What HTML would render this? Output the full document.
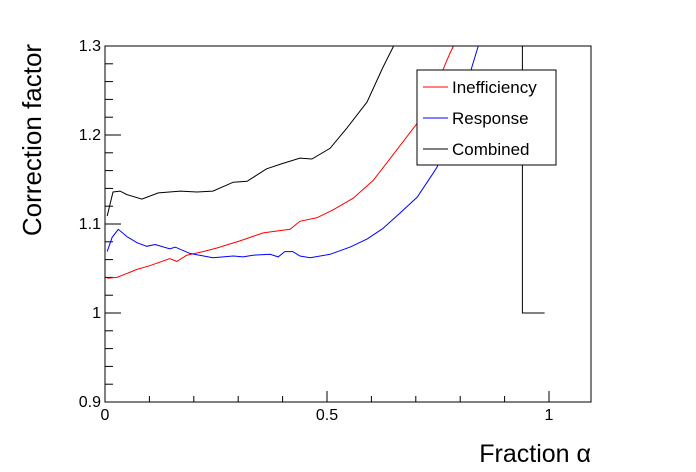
<!DOCTYPE html>
<html><head><meta charset="utf-8"><style>
body{margin:0;background:#fff}
svg{display:block;font-family:"Liberation Sans",sans-serif}
</style></head><body>
<svg id="chart" width="696" height="472">
<defs><clipPath id="frameclip"><rect x="105" y="46" width="486" height="356"/></clipPath></defs>
<rect x="0" y="0" width="696" height="472" fill="#fff"/>
<g id="axes"></g>
<g id="series" clip-path="url(#frameclip)"></g>
<rect x="105" y="46" width="486" height="356" fill="none" stroke="#000" stroke-width="1"/>
<text x="41" y="140" font-size="26" text-anchor="middle" transform="rotate(-90 41 140)">Correction factor</text>
<text x="591" y="462" font-size="25" text-anchor="end">Fraction α</text>
<g>
<rect x="417" y="70" width="139" height="95" fill="#fff" stroke="#000" stroke-width="1"/>
<line x1="423" y1="87" x2="448" y2="87" stroke="#f00"/>
<text x="452" y="93" font-size="17">Inefficiency</text>
<line x1="423" y1="118" x2="448" y2="118" stroke="#00f"/>
<text x="452" y="124" font-size="17">Response</text>
<line x1="423" y1="149" x2="448" y2="149" stroke="#000"/>
<text x="452" y="155" font-size="17">Combined</text>
</g>
</svg>
<script>
const xTicks = [0, 0.5, 1];
const xTickLabels = ["0", "0.5", "1"];
const yTicks = [0.9, 1.0, 1.1, 1.2, 1.3];
const yTickLabels = ["0.9", "1", "1.1", "1.2", "1.3"];
const ineffX = [0.005,0.027,0.072,0.10,0.146,0.162,0.184,0.221,0.252,0.304,0.356,0.417,0.439,0.477,0.514,0.559,0.604,0.649,0.703,0.739,0.777,0.784,0.80];
const ineffY = [1.039,1.040,1.049,1.053,1.061,1.058,1.065,1.069,1.073,1.081,1.090,1.094,1.103,1.107,1.116,1.129,1.149,1.178,1.213,1.247,1.292,1.299,1.33];
const respX = [0.005,0.016,0.03,0.049,0.072,0.094,0.113,0.146,0.158,0.191,0.243,0.289,0.311,0.333,0.372,0.39,0.405,0.423,0.439,0.462,0.507,0.552,0.59,0.626,0.664,0.703,0.739,0.748,0.784,0.815,0.84,0.86];
const respY = [1.069,1.085,1.094,1.086,1.079,1.075,1.077,1.072,1.074,1.067,1.062,1.064,1.063,1.065,1.066,1.063,1.069,1.069,1.064,1.062,1.066,1.074,1.083,1.095,1.112,1.130,1.157,1.164,1.213,1.258,1.299,1.34];
const combX = [0.005,0.018,0.034,0.049,0.083,0.12,0.17,0.207,0.243,0.289,0.32,0.364,0.40,0.439,0.466,0.507,0.545,0.59,0.626,0.649,0.70,0.80,0.90,0.94,0.94,0.99];
const combY = [1.109,1.136,1.137,1.133,1.128,1.135,1.137,1.136,1.137,1.147,1.148,1.162,1.168,1.174,1.173,1.185,1.208,1.237,1.276,1.299,1.36,1.55,1.9,2.1,1.0,1.0];

const X0=105, X1=591, Y0=402, Y1=46, xmin=0, xmax=486/444, ymin=0.9, ymax=1.3;
function sx(v){return X0+(v-xmin)/(xmax-xmin)*(X1-X0);}
function sy(v){return Y0-(v-ymin)/(ymax-ymin)*(Y0-Y1);}
const NS="http://www.w3.org/2000/svg";
const axes=document.getElementById('axes');
function mk(tag,attrs,parent){const e=document.createElementNS(NS,tag);for(const k in attrs)e.setAttribute(k,attrs[k]);parent.appendChild(e);return e;}

for(let i=0;i<=10;i++){
  const v=i*0.1; const major=(i%5===0);
  const t=mk('line',{x1:sx(v),x2:sx(v),y1:Y0,y2:Y0-(major?11:6),stroke:'#000'},axes);
  
  
}
xTicks.forEach((v,i)=>{
  const t=mk('text',{x:sx(v),y:Y0+18,'font-size':16,'text-anchor':'middle'},axes);
  t.textContent=xTickLabels[i];
  
  
});
for(let i=0;i<=20;i++){
  const v=0.9+i*0.02; const major=(i%5===0);
  const t=mk('line',{x1:X0,x2:X0+(major?16:8),y1:sy(v),y2:sy(v),stroke:'#000'},axes);
  
  
}
yTicks.forEach((v,i)=>{
  const t=mk('text',{x:X0-4,y:sy(v)+5,'font-size':16,'text-anchor':'end'},axes);
  t.textContent=yTickLabels[i];
  
  
});
const series=document.getElementById('series');
function line(xs,ys,color,name){
  const d=xs.map((x,i)=>(i?'L':'M')+sx(x).toFixed(1)+' '+sy(ys[i]).toFixed(1)).join(' ');
  const p=mk('path',{d:d,fill:'none',stroke:color,'stroke-width':1},series);
  
  
}
line(ineffX,ineffY,'#f00','inefficiency-line');
line(respX,respY,'#00f','response-line');
line(combX,combY,'#000','combined-line');
</script>
</body></html>
